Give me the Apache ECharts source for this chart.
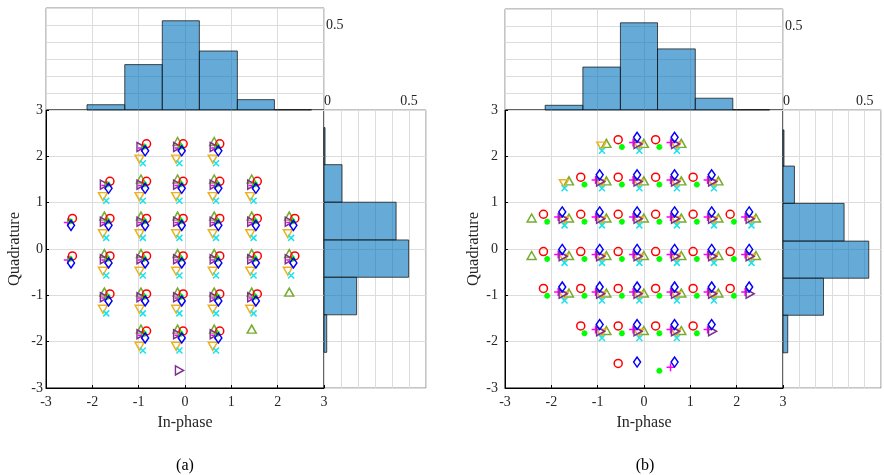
<!DOCTYPE html>
<html><head><meta charset="utf-8">
<script src="https://cdn.jsdelivr.net/npm/echarts@6/dist/echarts.min.js"></script>
<style>html,body{margin:0;padding:0;background:#fff}#c{width:884px;height:475px}</style>
</head><body><div id="c"></div>
<script>
// ================= DATA =================
const mainTicks = [-3, -2, -1, 0, 1, 2, 3];
const histTickLabels = [0, 0.5];

// ---- Panel (a): column x-positions and row y-positions of each marker set ----
const aRedX = [-2.43, -1.62, -0.83, -0.04, 0.75, 1.56, 2.37];
const aRedY = [2.27, 1.46, 0.66, -0.15, -0.97, -1.77];
const aGreenX = [-2.48, -1.67, -0.88, -0.09, 0.70, 1.51, 2.32];
const aGreenY = [2.21, 1.40, 0.60, -0.21, -1.03, -1.83];
const aOliveX = [-2.55, -1.74, -0.95, -0.16, 0.63, 1.44, 2.25];
const aOliveY = [2.32, 1.51, 0.71, -0.10, -0.93, -1.73];
const aPurpleX = [-2.55, -1.74, -0.95, -0.16, 0.63, 1.44, 2.25];
const aPurpleY = [2.20, 1.39, 0.59, -0.22, -1.04, -1.84];
const aMagentaX = [-2.53, -1.72, -0.93, -0.14, 0.65, 1.46, 2.27];
const aMagentaY = [2.18, 1.37, 0.57, -0.24, -1.06, -1.86];
const aBlueX = [-2.46, -1.65, -0.86, -0.07, 0.72, 1.53, 2.34];
const aBlueY = [2.12, 1.31, 0.51, -0.30, -1.12, -1.92];
const aOrangeX = [-2.58, -1.77, -0.98, -0.19, 0.60, 1.41, 2.22];
const aOrangeY = [1.94, 1.13, 0.33, -0.48, -1.30, -2.10];
const aCyanX = [-2.51, -1.70, -0.91, -0.12, 0.67, 1.48, 2.29];
const aCyanY = [1.85, 1.04, 0.24, -0.57, -1.39, -2.19];
// occupied cells [column, row]
const aCellsFull = [[2,0],[3,0],[4,0],[1,1],[2,1],[3,1],[4,1],[5,1],
  [1,2],[2,2],[3,2],[4,2],[5,2],[6,2],[1,3],[2,3],[3,3],[4,3],[5,3],[6,3],
  [1,4],[2,4],[3,4],[4,4],[5,4],[2,5],[3,5],[4,5]];
const aCellsEdge = [[0,2],[0,3]];
const aOliveCells = [[3,0],[4,0],[2,1],[3,1],[4,1],[5,1],
  [1,2],[2,2],[3,2],[4,2],[5,2],[6,2],[1,3],[2,3],[3,3],[4,3],[5,3],[6,3],
  [1,4],[2,4],[3,4],[4,4],[5,4],[6,4],[2,5],[3,5],[4,5],[5,5]];
const aPurpleExtra = [[-0.12, -2.62]];

// ---- Panel (b) ----
const bRedX = [-2.17, -1.365, -0.557, 0.251, 1.06, 1.86];
const bRedY = [2.36, 1.55, 0.75, -0.055, -0.85, -1.66, -2.47];
const bGreenX = [-2.09, -1.285, -0.477, 0.331, 1.14, 1.94];
const bGreenY = [2.20, 1.39, 0.59, -0.215, -1.01, -1.82, -2.63];
const bBlueX = [-2.57, -1.765, -0.957, -0.149, 0.66, 1.46, 2.27];
const bBlueY = [2.41, 1.60, 0.80, -0.01, -0.82, -1.63, -2.44];
const bMagentaX = [-2.657, -1.852, -1.044, -0.236, 0.573, 1.373, 2.183];
const bMagentaY = [2.30, 1.49, 0.69, -0.12, -0.93, -1.74, -2.55];
const bPurpleX = [-2.55, -1.745, -0.937, -0.129, 0.68, 1.48, 2.29];
const bPurpleY = [2.265, 1.455, 0.655, -0.155, -0.965, -1.775, -2.585];
const bOliveX = [-2.425, -1.62, -0.812, -0.004, 0.805, 1.605, 2.415];
const bOliveY = [2.28, 1.47, 0.67, -0.14, -0.95, -1.76, -2.57];
const bOrangeX = [-2.533, -1.728, -0.92, -0.112, 0.697, 1.497, 2.307];
const bOrangeY = [2.22, 1.41, 0.61, -0.20, -1.01, -1.82, -2.63];
const bCyanX = [-2.52, -1.715, -0.907, -0.099, 0.71, 1.51, 2.32];
const bCyanY = [2.12, 1.31, 0.51, -0.30, -1.11, -1.92, -2.73];
const bRedCells = [[2,0],[3,0],[1,1],[2,1],[3,1],[4,1],
  [0,2],[1,2],[2,2],[3,2],[4,2],[5,2],[0,3],[1,3],[2,3],[3,3],[4,3],[5,3],
  [0,4],[1,4],[2,4],[3,4],[4,4],[5,4],[1,5],[2,5],[3,5],[4,5],[2,6]];
const bGreenCells = [[2,0],[3,0],[1,1],[2,1],[3,1],[4,1],
  [0,2],[1,2],[2,2],[3,2],[4,2],[5,2],[0,3],[1,3],[2,3],[3,3],[4,3],[5,3],
  [0,4],[1,4],[2,4],[3,4],[4,4],[5,4],[1,5],[2,5],[3,5],[4,5],[3,6]];
const bBlueCells = [[3,0],[4,0],[2,1],[3,1],[4,1],[5,1],
  [1,2],[2,2],[3,2],[4,2],[5,2],[6,2],[1,3],[2,3],[3,3],[4,3],[5,3],[6,3],
  [1,4],[2,4],[3,4],[4,4],[5,4],[6,4],[2,5],[3,5],[4,5],[5,5],[3,6],[4,6]];
const bMagentaCells = [[3,0],[4,0],[2,1],[3,1],[4,1],[5,1],
  [1,2],[2,2],[3,2],[4,2],[5,2],[6,2],[1,3],[2,3],[3,3],[4,3],[5,3],[6,3],
  [1,4],[2,4],[3,4],[4,4],[5,4],[6,4],[2,5],[3,5],[4,5],[5,5],[4,6]];
const bPurpleCells = [[3,0],[4,0],[2,1],[3,1],[4,1],[5,1],
  [1,2],[2,2],[3,2],[4,2],[5,2],[6,2],[1,3],[2,3],[3,3],[4,3],[5,3],[6,3],
  [1,4],[2,4],[3,4],[4,4],[5,4],[6,4],[2,5],[3,5],[4,5],[5,5]];
const bOliveCells = [[2,0],[3,0],[4,0],[1,1],[2,1],[3,1],[4,1],[5,1],
  [0,2],[1,2],[2,2],[3,2],[4,2],[5,2],[6,2],[0,3],[1,3],[2,3],[3,3],[4,3],[5,3],[6,3],
  [1,4],[2,4],[3,4],[4,4],[5,4],[2,5],[3,5],[4,5]];
const bOrangeCyanCells = [[2,0],[3,0],[4,0],[1,1],[2,1],[3,1],[4,1],[5,1],
  [1,2],[2,2],[3,2],[4,2],[5,2],[6,2],[1,3],[2,3],[3,3],[4,3],[5,3],[6,3],
  [1,4],[2,4],[3,4],[4,4],[5,4],[2,5],[3,5],[4,5]];

// ---- Histograms (bin edges and normalized heights) ----
const aTopEdges = [-2.115, -1.30, -0.49, 0.31, 1.13, 1.93, 2.73];
const aTopHeights = [0.031, 0.267, 0.525, 0.347, 0.061, 0.002];
const aRightEdges = [2.62, 1.82, 1.01, 0.195, -0.61, -1.42, -2.23];
const aRightWidths = [0.006, 0.106, 0.424, 0.498, 0.192, 0.016];
const bTopEdges = [-2.133, -1.319, -0.509, 0.292, 1.107, 1.917, 2.71];
const bTopHeights = [0.028, 0.255, 0.518, 0.363, 0.070, 0.002];
const bRightEdges = [2.57, 1.79, 0.985, 0.17, -0.63, -1.43, -2.24];
const bRightWidths = [0.006, 0.070, 0.374, 0.525, 0.248, 0.029];

// ================= CHART =================
const FONT = 'Liberation Serif';
const TXT = '#262626';
const GRIDC = '#dcdcdc';
const SYM = {
  star: 'path://M5,0L5,10M0,5L10,5M1.5,1.5L8.5,8.5M1.5,8.5L8.5,1.5',
  up: 'path://M5,0L10,8.66L0,8.66Z',
  down: 'path://M0,0L10,0L5,8.66Z',
  right: 'path://M0,0L8.66,5L0,10Z',
  plus: 'path://M5,0L5,10M0,5L10,5',
  cross: 'path://M0,0L10,10M0,10L10,0',
  diamond: 'path://M5,0L10,7L5,14L0,7Z'
};
function pts(xs, ys, cells, extra) {
  const out = cells.map(c => [xs[c[0]], ys[c[1]]]);
  return extra ? out.concat(extra) : out;
}
function sc(ai, data, sym, size, color, bw) {
  return {type: 'scatter', xAxisIndex: ai, yAxisIndex: ai, data: data, symbol: sym,
    symbolSize: size, silent: true, animation: false, z: 3,
    itemStyle: {color: 'rgba(0,0,0,0)', borderColor: color, borderWidth: bw || 1.5, opacity: 1}};
}
function binsV(edges, vals) { return vals.map((v, i) => [edges[i], edges[i + 1], v]); }
function histTop(ai, data) {
  return {type: 'custom', xAxisIndex: ai, yAxisIndex: ai, data: data, silent: true, animation: false,
    encode: {x: [0, 1], y: 2},
    renderItem: (p, api) => {
      const p0 = api.coord([api.value(0), 0]);
      const p1 = api.coord([api.value(1), api.value(2)]);
      return {type: 'rect', shape: {x: p0[0], y: p1[1], width: p1[0] - p0[0], height: p0[1] - p1[1]},
        style: {fill: 'rgba(0,114,189,0.6)', stroke: 'rgba(20,20,20,0.75)', lineWidth: 1}};
    }};
}
function histRight(ai, data) {
  return {type: 'custom', xAxisIndex: ai, yAxisIndex: ai, data: data, silent: true, animation: false,
    encode: {y: [0, 1], x: 2},
    renderItem: (p, api) => {
      const p0 = api.coord([0, api.value(0)]);
      const p1 = api.coord([api.value(2), api.value(1)]);
      return {type: 'rect', shape: {x: p0[0], y: p0[1], width: p1[0] - p0[0], height: p1[1] - p0[1]},
        style: {fill: 'rgba(0,114,189,0.6)', stroke: 'rgba(20,20,20,0.75)', lineWidth: 1}};
    }};
}
const near = (v, t) => Math.abs(v - t) < 1e-6;
const lbl = {fontFamily: FONT, fontSize: 14, color: TXT};
const split = {show: true, lineStyle: {color: GRIDC, width: 1}};

function mainX(gi) {
  return {gridIndex: gi, type: 'value', min: mainTicks[0], max: mainTicks[mainTicks.length - 1], interval: 1,
    axisLine: {show: true, onZero: false, lineStyle: {color: '#000', width: 1}},
    axisTick: {show: true, inside: true, length: 3, lineStyle: {color: '#000'}},
    axisLabel: Object.assign({margin: 7}, lbl), splitLine: split,
    name: 'In-phase', nameLocation: 'middle', nameGap: 27,
    nameTextStyle: {fontFamily: FONT, fontSize: 16, color: TXT}};
}
function mainY(gi, m) {
  return {gridIndex: gi, type: 'value', min: mainTicks[0], max: mainTicks[mainTicks.length - 1], interval: 1,
    axisLine: {show: true, onZero: false, lineStyle: {color: '#000', width: 1}},
    axisTick: {show: true, inside: true, length: 3, lineStyle: {color: '#000'}},
    axisLabel: Object.assign({margin: m}, lbl), splitLine: split,
    name: 'Quadrature', nameLocation: 'middle', nameGap: 23,
    nameTextStyle: {fontFamily: FONT, fontSize: 16.5, color: TXT}};
}
const hidden = {axisLine: {show: false}, axisTick: {show: false}, axisLabel: {show: false}};
function topX(gi) { return Object.assign({gridIndex: gi, type: 'value', min: -3, max: 3, interval: 1, splitLine: split}, hidden); }
function topY(gi) {
  return {gridIndex: gi, type: 'value', position: 'right', min: 0, max: 0.6, interval: 0.1,
    axisLine: {show: false}, axisTick: {show: false}, splitLine: split,
    axisLabel: Object.assign({margin: 2, formatter: v => near(v, histTickLabels[1]) ? '0.5' : ''}, lbl)};
}
function rightX(gi) {
  return {gridIndex: gi, type: 'value', position: 'top', min: 0, max: 0.6, interval: 0.1,
    axisLine: {show: false}, axisTick: {show: false}, splitLine: split,
    axisLabel: Object.assign({margin: 2,
      formatter: v => near(v, histTickLabels[0]) ? '{z|0}' : (near(v, histTickLabels[1]) ? '0.5' : ''),
      rich: {z: {fontFamily: FONT, fontSize: 14, color: TXT, padding: [0, 0, 0, 7]}}}, lbl)};
}
function rightY(gi) { return Object.assign({gridIndex: gi, type: 'value', min: -3, max: 3, interval: 1, splitLine: split}, hidden); }

const HB = {show: true, borderColor: '#8a8a8a', borderWidth: 1, backgroundColor: 'transparent'};
const MB = {show: true, borderColor: '#000', borderWidth: 1, backgroundColor: 'transparent'};
const grids = [
  Object.assign({left: 46, top: 8, width: 278, height: 102}, HB),    // 0 a-top
  Object.assign({left: 324, top: 110, width: 102, height: 278}, HB), // 1 a-right
  Object.assign({left: 46, top: 110, width: 278, height: 278}, MB),  // 2 a-main
  Object.assign({left: 505, top: 9, width: 278, height: 101}, HB),   // 3 b-top
  Object.assign({left: 783, top: 110, width: 102, height: 278}, HB), // 4 b-right
  Object.assign({left: 505, top: 110, width: 278, height: 278}, MB)  // 5 b-main
];
const xAxes = [topX(0), rightX(1), mainX(2), topX(3), rightX(4), mainX(5)];
const yAxes = [topY(0), rightY(1), mainY(2, 3), topY(3), rightY(4), mainY(5, 7)];

const C = {red: '#ff0000', green: '#00ff00', olive: '#77ac30', purple: '#7e2f8e',
  magenta: '#ff00ff', blue: '#0000ff', orange: '#edb120', cyan: '#17e3f0'};

const series = [
  histTop(0, binsV(aTopEdges, aTopHeights)),
  histRight(1, binsV(aRightEdges, aRightWidths)),
  histTop(3, binsV(bTopEdges, bTopHeights)),
  histRight(4, binsV(bRightEdges, bRightWidths)),
  // panel (a)
  sc(2, pts(aOliveX, aOliveY, aOliveCells), SYM.up, [9, 8], C.olive),
  sc(2, pts(aOrangeX, aOrangeY, aCellsFull), SYM.down, [9, 8], C.orange),
  sc(2, pts(aCyanX, aCyanY, aCellsFull), SYM.cross, 6, C.cyan),
  sc(2, pts(aMagentaX, aMagentaY, aCellsFull.concat(aCellsEdge)), SYM.plus, 8, C.magenta),
  sc(2, pts(aPurpleX, aPurpleY, aCellsFull, aPurpleExtra), SYM.right, [8, 9], C.purple),
  sc(2, pts(aGreenX, aGreenY, aCellsFull.concat(aCellsEdge)), SYM.star, 6, C.green, 1.7),
  sc(2, pts(aRedX, aRedY, aCellsFull.concat(aCellsEdge)), 'circle', 8, C.red),
  sc(2, pts(aBlueX, aBlueY, aCellsFull.concat(aCellsEdge)), SYM.diamond, [7, 10], C.blue),
  // panel (b)
  sc(5, pts(bOliveX, bOliveY, bOliveCells), SYM.up, [9, 8], C.olive),
  sc(5, pts(bOrangeX, bOrangeY, bOrangeCyanCells), SYM.down, [9, 8], C.orange),
  sc(5, pts(bCyanX, bCyanY, bOrangeCyanCells), SYM.cross, 6, C.cyan),
  sc(5, pts(bMagentaX, bMagentaY, bMagentaCells), SYM.plus, 8, C.magenta),
  sc(5, pts(bPurpleX, bPurpleY, bPurpleCells), SYM.right, [8, 9], C.purple),
  sc(5, pts(bGreenX, bGreenY, bGreenCells), SYM.star, 6, C.green, 1.8),
  sc(5, pts(bRedX, bRedY, bRedCells), 'circle', 8, C.red),
  sc(5, pts(bBlueX, bBlueY, bBlueCells), SYM.diamond, [7, 10], C.blue)
];

const chart = echarts.init(document.getElementById('c'), null, {renderer: 'canvas'});
chart.setOption({
  animation: false,
  backgroundColor: '#fff',
  grid: grids, xAxis: xAxes, yAxis: yAxes, series: series,
  graphic: [
    {type: 'text', x: 185, y: 466, style: {text: '(a)', textAlign: 'center', textVerticalAlign: 'middle', font: '16px "Liberation Serif"', fill: '#000'}},
    {type: 'text', x: 645, y: 466, style: {text: '(b)', textAlign: 'center', textVerticalAlign: 'middle', font: '16px "Liberation Serif"', fill: '#000'}}
  ]
});
</script></body></html>
